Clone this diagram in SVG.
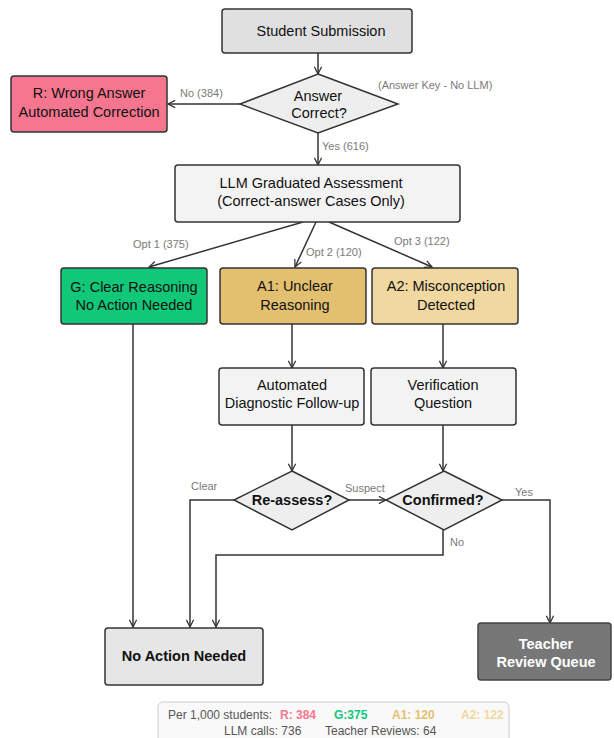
<svg xmlns="http://www.w3.org/2000/svg" width="614" height="738" viewBox="0 0 614 738">
<style>
text{font-family:"Liberation Sans",Arial,sans-serif}
.n{stroke:#333;stroke-width:1.5}
.t{font-size:14.5px;fill:#111;text-anchor:middle}
.b{font-weight:bold}
.l{font-size:11px;fill:#7a7a7a}
.c{fill:none;stroke:#333;stroke-width:1.5}
.s{font-size:12px;fill:#555}
</style>
<defs>
<marker id="ah" viewBox="0 0 10 10" refX="9" refY="5" markerWidth="9" markerHeight="9" markerUnits="userSpaceOnUse" orient="auto">
<path d="M1,1 L9,5 L1,9" fill="none" stroke="#333" stroke-width="1.4"/>
</marker>
</defs>
<rect width="614" height="738" fill="#fff"/>
<g id="connectors">
<path class="c" d="M318,53 V74" marker-end="url(#ah)"/>
<path class="c" d="M240,104 H168" marker-end="url(#ah)"/>
<path class="c" d="M318,133 V165" marker-end="url(#ah)"/>
<path class="c" d="M303,222 L149,267" marker-end="url(#ah)"/>
<path class="c" d="M316,222 L295,267" marker-end="url(#ah)"/>
<path class="c" d="M329,222 L432,267" marker-end="url(#ah)"/>
<path class="c" d="M133,324 V627" marker-end="url(#ah)"/>
<path class="c" d="M292,324 V368" marker-end="url(#ah)"/>
<path class="c" d="M443,324 V368" marker-end="url(#ah)"/>
<path class="c" d="M292,425 V471" marker-end="url(#ah)"/>
<path class="c" d="M443,425 V471" marker-end="url(#ah)"/>
<path class="c" d="M349,500 H386" marker-end="url(#ah)"/>
<path class="c" d="M234,500 H190 V627" marker-end="url(#ah)"/>
<path class="c" d="M443,530 V555 H216 V627" marker-end="url(#ah)"/>
<path class="c" d="M502,500 H550 V623" marker-end="url(#ah)"/>
<text class="l" x="180" y="97">No (384)</text>
<text class="l" x="378" y="89">(Answer Key - No LLM)</text>
<text class="l" x="322" y="150">Yes (616)</text>
<text class="l" x="133" y="248">Opt 1 (375)</text>
<text class="l" x="306" y="256">Opt 2 (120)</text>
<text class="l" x="394" y="245">Opt 3 (122)</text>
<text class="l" x="191" y="490">Clear</text>
<text class="l" x="345" y="492">Suspect</text>
<text class="l" x="515" y="496">Yes</text>
<text class="l" x="450" y="546">No</text>
</g>
<g id="submission">
<rect class="n" x="222" y="9" width="190" height="44" rx="3" fill="#e0e0e0"/>
<text class="t" x="321" y="36">Student Submission</text>
</g>
<g id="answer-correct">
<polygon class="n" points="318,74 398,104 318,133 240,104" fill="#eeeeee"/>
<text class="t" x="318" y="101">Answer</text>
<text class="t" x="319" y="118">Correct?</text>
</g>
<g id="wrong-answer">
<rect class="n" x="11" y="76" width="156" height="56" rx="3" fill="#f7768f"/>
<text class="t" x="89" y="98">R: Wrong Answer</text>
<text class="t" x="89" y="117">Automated Correction</text>
</g>
<g id="llm-assessment">
<rect class="n" x="175" y="165" width="285" height="57" rx="3" fill="#f3f3f3"/>
<text class="t" x="311" y="188">LLM Graduated Assessment</text>
<text class="t" x="311" y="206">(Correct-answer Cases Only)</text>
</g>
<g id="g-clear">
<rect class="n" x="61" y="268" width="146" height="56" rx="3" fill="#10c878"/>
<text class="t" x="134" y="292">G: Clear Reasoning</text>
<text class="t" x="134" y="310">No Action Needed</text>
</g>
<g id="a1-unclear">
<rect class="n" x="220" y="268" width="146" height="56" rx="3" fill="#e3c070"/>
<text class="t" x="295" y="291">A1: Unclear</text>
<text class="t" x="295" y="310">Reasoning</text>
</g>
<g id="a2-misconception">
<rect class="n" x="372" y="268" width="146" height="56" rx="3" fill="#f0d8a0"/>
<text class="t" x="446" y="291">A2: Misconception</text>
<text class="t" x="446" y="310">Detected</text>
</g>
<g id="diagnostic">
<rect class="n" x="219" y="368" width="145" height="57" rx="3" fill="#f3f3f3"/>
<text class="t" x="292" y="390">Automated</text>
<text class="t" x="292" y="408">Diagnostic Follow-up</text>
</g>
<g id="verification">
<rect class="n" x="371" y="368" width="145" height="57" rx="3" fill="#f3f3f3"/>
<text class="t" x="443" y="390">Verification</text>
<text class="t" x="443" y="408">Question</text>
</g>
<g id="reassess">
<polygon class="n" points="292,471 349,500 292,530 234,500" fill="#eeeeee"/>
<text class="t b" x="292" y="505">Re-assess?</text>
</g>
<g id="confirmed">
<polygon class="n" points="444,471 502,500 444,530 386,500" fill="#eeeeee"/>
<text class="t b" x="443" y="505">Confirmed?</text>
</g>
<g id="no-action">
<rect class="n" x="105" y="628" width="158" height="57" rx="3" fill="#e6e6e6"/>
<text class="t b" x="184" y="661">No Action Needed</text>
</g>
<g id="teacher-review">
<rect x="478" y="623" width="133" height="57" rx="3" fill="#777" stroke="#444" stroke-width="1.5"/>
<text class="t b" x="546" y="649" fill="#fff" style="fill:#fff">Teacher</text>
<text class="t b" x="546" y="667" style="fill:#fff">Review Queue</text>
</g>
<g id="summary">
<rect x="158" y="702" width="351" height="42" rx="5" fill="#f9f9f9" stroke="#cccccc" stroke-width="1"/>
<text class="s" x="168" y="719">Per 1,000 students:</text>
<text class="s b" x="280" y="719" style="fill:#f7768f">R: 384</text>
<text class="s b" x="334" y="719" style="fill:#10c878">G:375</text>
<text class="s b" x="392" y="719" style="fill:#e3c070">A1: 120</text>
<text class="s b" x="461" y="719" style="fill:#f0d8a0">A2: 122</text>
<text class="s" x="224" y="735">LLM calls: 736</text>
<text class="s" x="325" y="735">Teacher Reviews: 64</text>
</g>
</svg>
